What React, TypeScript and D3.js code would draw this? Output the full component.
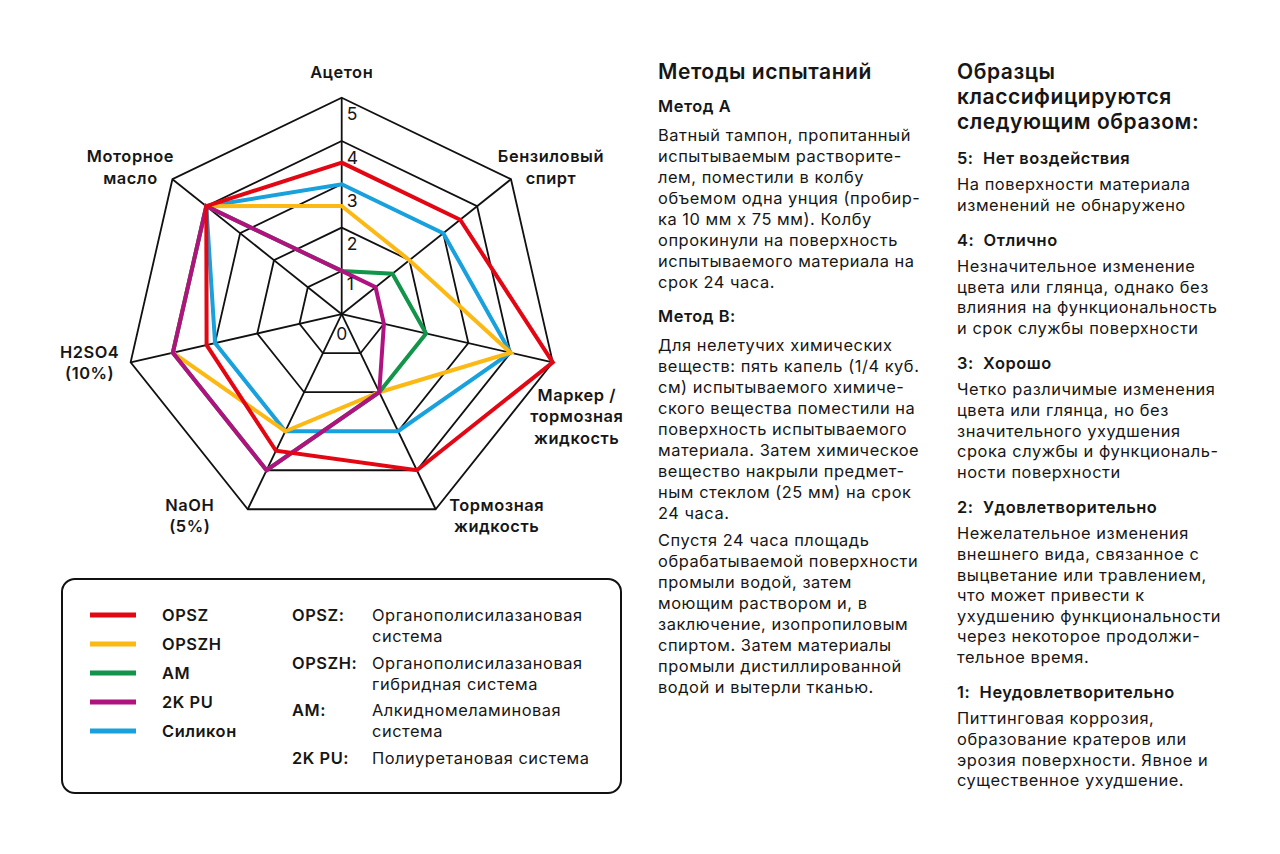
import * as d3 from 'd3';

// axes, clockwise from the top
const axisNames = [
	'Ацетон',
	'Бензиловый спирт',
	'Маркер / тормозная жидкость',
	'Тормозная жидкость',
	'NaOH (5%)',
	'H2SO4 (10%)',
	'Моторное масло',
];
const axisLabelLines = [
	['Ацетон'],
	['Бензиловый', 'спирт'],
	['Маркер /', 'тормозная', 'жидкость'],
	['Тормозная', 'жидкость'],
	['NaOH', '(5%)'],
	['H2SO4', '(10%)'],
	['Моторное', 'масло'],
];
const ringTicks = [0, 1, 2, 3, 4, 5];

const seriesNames = ['OPSZ', 'OPSZH', 'AM', '2K PU', 'Силикон'];
const opszValues = [3.5, 3.5, 5, 4, 3.5, 3.2, 4];
const opszhValues = [2.5, 2, 4, 2, 3, 4, 4];
const amValues = [1, 1.5, 2, 2, 4, 4, 4];
const pu2kValues = [1, 1, 1, 2, 4, 4, 4];
const siliconValues = [3, 3, 4, 3, 3, 3, 4];

const systemKeys = ['OPSZ:', 'OPSZH:', 'AM:', '2K PU:'];
const systemNames = [
	['Органополисилазановая', 'система'],
	['Органополисилазановая', 'гибридная система'],
	['Алкидномеламиновая', 'система'],
	['Полиуретановая система'],
];

const methodsTitle = 'Методы испытаний';
const methodAHead = 'Метод А';
const methodALines = [
	'Ватный тампон, пропитанный',
	'испытываемым растворите-',
	'лем, поместили в колбу',
	'объемом одна унция (пробир-',
	'ка 10 мм х 75 мм). Колбу',
	'опрокинули на поверхность',
	'испытываемого материала на',
	'срок 24 часа.',
];
const methodBHead = 'Метод В:';
const methodBLines = [
	'Для нелетучих химических',
	'веществ: пять капель (1/4 куб.',
	'см) испытываемого химиче-',
	'ского вещества поместили на',
	'поверхность испытываемого',
	'материала. Затем химическое',
	'вещество накрыли предмет-',
	'ным стеклом (25 мм) на срок',
	'24 часа.',
];
const afterLines = [
	'Спустя 24 часа площадь',
	'обрабатываемой поверхности',
	'промыли водой, затем',
	'моющим раствором и, в',
	'заключение, изопропиловым',
	'спиртом. Затем материалы',
	'промыли дистиллированной',
	'водой и вытерли тканью.',
];

const gradesTitle = ['Образцы', 'классифицируются', 'следующим образом:'];
const gradeHeads = [
	'5:  Нет воздействия',
	'4:  Отлично',
	'3:  Хорошо',
	'2:  Удовлетворительно',
	'1:  Неудовлетворительно',
];
const gradeLines = [
	['На поверхности материала', 'изменений не обнаружено'],
	[
		'Незначительное изменение',
		'цвета или глянца, однако без',
		'влияния на функциональность',
		'и срок службы поверхности',
	],
	[
		'Четко различимые изменения',
		'цвета или глянца, но без',
		'значительного ухудшения',
		'срока службы и функциональ-',
		'ности поверхности',
	],
	[
		'Нежелательное изменения',
		'внешнего вида, связанное с',
		'выцветание или травлением,',
		'что может привести к',
		'ухудшению функциональности',
		'через некоторое продолжи-',
		'тельное время.',
	],
	[
		'Питтинговая коррозия,',
		'образование кратеров или',
		'эрозия поверхности. Явное и',
		'существенное ухудшение.',
	],
];

const colors = ['#e30613', '#fcb813', '#12944a', '#b0137f', '#18a1dc'];
const FONT = 'Inter, "Noto Sans", sans-serif';
const INK = '#161616';
const BODY = 16.4;
const SPACING = 0.55;

const cx = 341.7;
const cy = 314.2;
const R = 216.5;

// label block offsets from the outer vertex (layout only)
const labelNudge: [number, number][] = [
	[0, -26],
	[40, -12],
	[24, 54],
	[61, 6],
	[-58, 6],
	[-41, 0],
	[-42, -12],
];

export default function App() {
	const values = [opszValues, opszhValues, amValues, pu2kValues, siliconValues];
	const n = axisNames.length;
	const rScale = d3.scaleLinear().domain([0, 5]).range([0, R]);
	const angle = d3
		.scalePoint<number>()
		.domain(d3.range(n + 1))
		.range([0, 2 * Math.PI]);

	const pt = (i: number, v: number) => {
		const a = angle(i)!;
		return [cx + rScale(v) * Math.sin(a), cy - rScale(v) * Math.cos(a)];
	};

	const radial = d3
		.lineRadial<number>()
		.angle((_, i) => angle(i)!)
		.radius((d) => rScale(d))
		.curve(d3.curveLinearClosed);

	const drawOrder = [4, 1, 2, 3, 0];
	const lh2 = 21;
	const lh3 = 20.6;

	let y3 = 158;
	const gradeBlocks = gradeHeads.map((h, gi) => {
		const headY = y3;
		const bodyY = headY + 26;
		y3 = bodyY + (gradeLines[gi].length - 1) * lh3 + 35.5;
		return { h, headY, bodyY, lines: gradeLines[gi] };
	});

	return (
		<svg
			width={1280}
			height={854}
			style={{ position: 'absolute', left: 0, top: 0, background: '#fff' }}
			fontFamily={FONT}
			letterSpacing={SPACING}
		>
			<g className="grid">
				{ringTicks.slice(1).map((t) => (
					<path
						key={t}
						d={radial(d3.range(n).map(() => t))!}
						transform={`translate(${cx},${cy})`}
						fill="none"
						stroke="#111"
						strokeWidth={1.8}
						strokeLinejoin="miter"
					/>
				))}
				{d3.range(n).map((i) => {
					const [x, y] = pt(i, 5);
					return (
						<line
							key={i}
							x1={cx}
							y1={cy}
							x2={x}
							y2={y}
							stroke="#111"
							strokeWidth={1.8}
						/>
					);
				})}
			</g>

			<g className="series">
				{drawOrder.map((s) => (
					<path
						key={s}
						d={radial(values[s])!}
						transform={`translate(${cx},${cy})`}
						fill="none"
						stroke={colors[s]}
						strokeWidth={4}
						strokeLinejoin="miter"
					/>
				))}
			</g>

			<g className="ring-labels" fontSize={17.5} fill={INK} letterSpacing={0}>
				{ringTicks.map((t) =>
					t === 0 ? (
						<text
							key={t}
							x={cx}
							y={cy + 19}
							textAnchor="middle"
							dominantBaseline="central"
						>
							{t}
						</text>
					) : (
						<text
							key={t}
							x={cx + 5}
							y={cy - rScale(t) + (t === 1 ? 13 : 16)}
							dominantBaseline="central"
						>
							{t}
						</text>
					),
				)}
			</g>

			<g className="axis-labels" fontSize={16.4} fontWeight={600} fill={INK}>
				{axisLabelLines.map((lines, i) => {
					const [x, y] = pt(i, 5);
					const [dx, dy] = labelNudge[i];
					const y0 = y + dy - ((lines.length - 1) * 21.5) / 2;
					return lines.map((l, k) => (
						<text
							key={`${i}-${k}`}
							x={x + dx}
							y={y0 + k * 21.5}
							textAnchor="middle"
							dominantBaseline="central"
						>
							{l}
						</text>
					));
				})}
			</g>

			<g className="legend">
				<rect
					x={62}
					y={579}
					width={559}
					height={214}
					rx={13}
					fill="none"
					stroke="#111"
					strokeWidth={2}
				/>
				{seriesNames.map((name, i) => (
					<g key={name} transform={`translate(0,${615 + i * 29})`}>
						<line
							x1={90}
							x2={136}
							y1={0}
							y2={0}
							stroke={colors[i]}
							strokeWidth={5}
						/>
						<text
							x={162}
							y={0}
							dominantBaseline="central"
							fontSize={BODY}
							fontWeight={600}
							fill={INK}
						>
							{name}
						</text>
					</g>
				))}
				{systemKeys.map((k, i) => (
					<g key={k} transform={`translate(0,${615 + i * 47.7})`}>
						<text
							x={292}
							y={0}
							dominantBaseline="central"
							fontSize={BODY}
							fontWeight={600}
							fill={INK}
						>
							{k}
						</text>
						{systemNames[i].map((l, j) => (
							<text
								key={j}
								x={372}
								y={j * 21}
								dominantBaseline="central"
								fontSize={BODY}
								fill={INK}
							>
								{l}
							</text>
						))}
					</g>
				))}
			</g>

			<g className="methods" fill={INK}>
				<text x={658} y={71} fontSize={21} fontWeight={600} dominantBaseline="central">
					{methodsTitle}
				</text>
				<text x={658} y={106} fontSize={BODY} fontWeight={600} dominantBaseline="central">
					{methodAHead}
				</text>
				{methodALines.map((l, i) => (
					<text key={`a${i}`} x={658} y={135 + i * lh2} fontSize={BODY} dominantBaseline="central">
						{l}
					</text>
				))}
				<text x={658} y={316} fontSize={BODY} fontWeight={600} dominantBaseline="central">
					{methodBHead}
				</text>
				{methodBLines.map((l, i) => (
					<text key={`b${i}`} x={658} y={345 + i * lh2} fontSize={BODY} dominantBaseline="central">
						{l}
					</text>
				))}
				{afterLines.map((l, i) => (
					<text key={`c${i}`} x={658} y={540 + i * lh2} fontSize={BODY} dominantBaseline="central">
						{l}
					</text>
				))}
			</g>

			<g className="grades" fill={INK}>
				{gradesTitle.map((l, i) => (
					<text
						key={l}
						x={957}
						y={71 + i * 25}
						fontSize={21}
						fontWeight={600}
						dominantBaseline="central"
					>
						{l}
					</text>
				))}
				{gradeBlocks.map((b) => (
					<g key={b.h}>
						<text
							x={957}
							y={b.headY}
							fontSize={BODY}
							fontWeight={600}
							dominantBaseline="central"
							style={{ whiteSpace: 'pre' }}
						>
							{b.h}
						</text>
						{b.lines.map((l, j) => (
							<text
								key={j}
								x={957}
								y={b.bodyY + j * lh3}
								fontSize={BODY}
								dominantBaseline="central"
							>
								{l}
							</text>
						))}
					</g>
				))}
			</g>
		</svg>
	);
}
